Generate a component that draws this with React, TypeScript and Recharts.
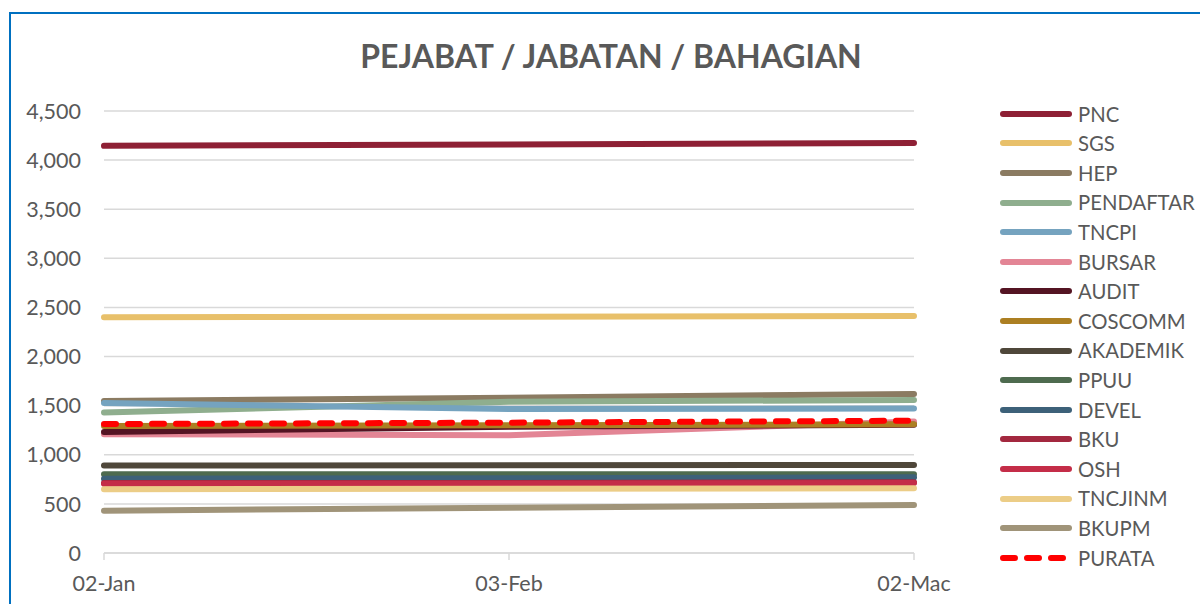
import React from 'react';
import { LineChart, Line, XAxis, YAxis, CartesianGrid, Legend } from 'recharts';

const categories = ['02-Jan', '03-Feb', '02-Mac'];

const PNC = [4145, 4160, 4175];
const SGS = [2400, 2405, 2412];
const HEP = [1547, 1580, 1620];
const PENDAFTAR = [1430, 1540, 1558];
const TNCPI = [1527, 1466, 1470];
const BURSAR = [1210, 1200, 1340];
const AUDIT = [1232, 1285, 1305];
const COSCOMM = [1293, 1300, 1310];
const AKADEMIK = [890, 893, 896];
const PPUU = [801, 801, 803];
const DEVEL = [757, 760, 770];
const BKU = [712, 713, 720];
const OSH = [706, 706, 713];
const TNCJINM = [649, 653, 659];
const BKUPM = [431, 461, 489];
const PURATA = [1313, 1327, 1347];

const yTicks = [0, 500, 1000, 1500, 2000, 2500, 3000, 3500, 4000, 4500];

const seriesList = [
  { name: 'PNC', values: PNC, color: '#8E2035' },
  { name: 'SGS', values: SGS, color: '#E8C06A' },
  { name: 'HEP', values: HEP, color: '#8B7B62' },
  { name: 'PENDAFTAR', values: PENDAFTAR, color: '#8FAE8E' },
  { name: 'TNCPI', values: TNCPI, color: '#75A3BF' },
  { name: 'BURSAR', values: BURSAR, color: '#E38595' },
  { name: 'AUDIT', values: AUDIT, color: '#541423' },
  { name: 'COSCOMM', values: COSCOMM, color: '#AC7F22' },
  { name: 'AKADEMIK', values: AKADEMIK, color: '#4F473A' },
  { name: 'PPUU', values: PPUU, color: '#4E6B4F' },
  { name: 'DEVEL', values: DEVEL, color: '#3D6179' },
  { name: 'BKU', values: BKU, color: '#A3283F' },
  { name: 'OSH', values: OSH, color: '#C42D48' },
  { name: 'TNCJINM', values: TNCJINM, color: '#ECCD87' },
  { name: 'BKUPM', values: BKUPM, color: '#A09479' },
  { name: 'PURATA', values: PURATA, color: '#FF0000', dash: '12 12' },
];

const data = categories.map((c, i) => {
  const row: Record<string, string | number> = { cat: c };
  seriesList.forEach((s) => {
    row[s.name] = s.values[i];
  });
  return row;
});

const FONT = 'Lato, "Noto Sans", sans-serif';
const TEXT = '#595959';

const orderOf = (name: string) => seriesList.findIndex((s) => s.name === name);

const renderLegend = (props: any) => {
  const payload = [...(props.payload || [])].sort(
    (a: any, b: any) => orderOf(a.value) - orderOf(b.value)
  );
  return (
    <div style={{ fontFamily: FONT, fontSize: 20.3, color: TEXT }}>
      {payload.map((e: any) => {
        const s = seriesList[orderOf(e.value)];
        return (
          <div key={e.value} style={{ display: 'flex', alignItems: 'center', height: 29.6 }}>
            <svg width={72} height={10} style={{ display: 'block' }}>
              <line
                x1={3}
                y1={5}
                x2={69}
                y2={5}
                stroke={e.color}
                strokeWidth={6}
                strokeLinecap="round"
                strokeDasharray={s && s.dash ? '12 12' : undefined}
              />
            </svg>
            <span style={{ marginLeft: 6, lineHeight: 1 }}>{e.value}</span>
          </div>
        );
      })}
    </div>
  );
};

export default function App() {
  return (
    <div style={{ position: 'absolute', left: 0, top: 0, width: 1200, height: 604, overflow: 'hidden', background: '#fff' }}>
      <div
        style={{
          position: 'absolute',
          left: 9,
          top: 12,
          width: 1400,
          height: 800,
          border: '2px solid #0070C0',
          boxSizing: 'border-box',
        }}
      />
      <div
        style={{
          position: 'absolute',
          left: 0,
          width: 1222,
          top: 36,
          textAlign: 'center',
          fontFamily: FONT,
          fontWeight: 700,
          fontSize: 32,
          color: TEXT,
          lineHeight: '40px',
        }}
      >
        PEJABAT / JABATAN / BAHAGIAN
      </div>
      <div style={{ position: 'absolute', left: 0, top: 0 }}>
        <LineChart
          width={1200}
          height={604}
          data={data}
          margin={{ top: 111, right: 286, bottom: 11, left: 0 }}
        >
          <CartesianGrid horizontal vertical={false} stroke="#D9D9D9" strokeWidth={1.5} />
          <XAxis
            dataKey="cat"
            interval={0}
            height={40}
            axisLine={{ stroke: '#D9D9D9', strokeWidth: 1.5 }}
            tickLine={{ stroke: '#D9D9D9', strokeWidth: 1.5 }}
            tickSize={7}
            tickMargin={16}
            tick={{ fill: TEXT, fontSize: 21.5, fontFamily: FONT }}
          />
          <YAxis
            width={104}
            domain={[0, 4500]}
            ticks={yTicks}
            interval={0}
            axisLine={false}
            tickLine={false}
            tickSize={6}
            tickMargin={17}
            tickFormatter={(v: number) => v.toLocaleString('en-US')}
            tick={{ fill: TEXT, fontSize: 21.5, fontFamily: FONT }}
          />
          <Legend
            layout="vertical"
            align="center"
            verticalAlign="middle"
            content={renderLegend}
            wrapperStyle={{ left: 1000, top: 99, width: 200 }}
          />
          {seriesList.map((s) => (
            <Line
              key={s.name}
              type="linear"
              dataKey={s.name}
              name={s.name}
              stroke={s.color}
              strokeWidth={6}
              strokeLinecap="round"
              strokeDasharray={s.dash}
              dot={false}
              activeDot={false}
              isAnimationActive={false}
            />
          ))}
        </LineChart>
      </div>
    </div>
  );
}
